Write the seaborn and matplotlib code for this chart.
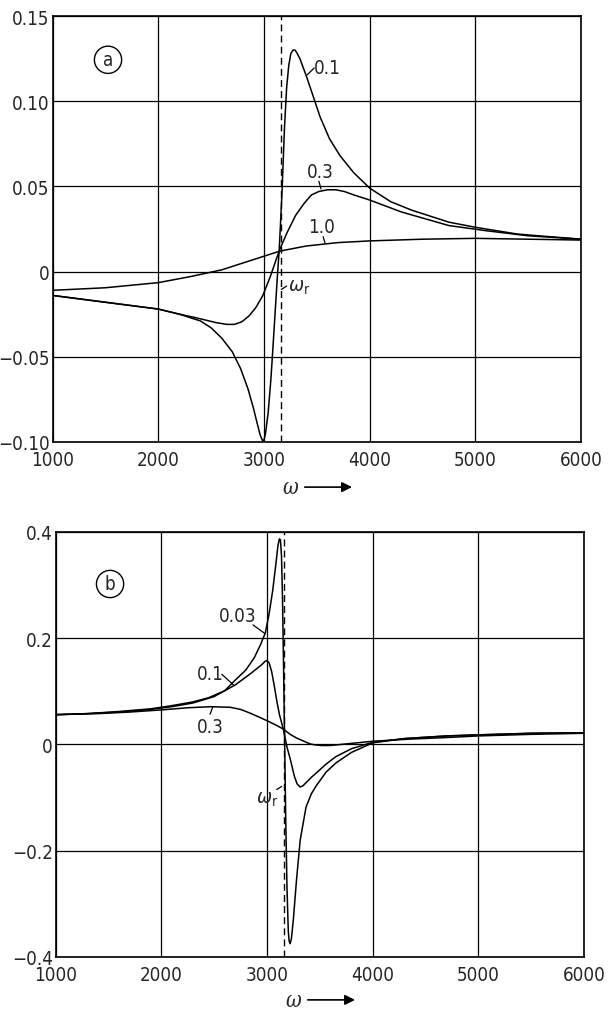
import numpy as np
import pandas as pd
import seaborn as sns
import matplotlib
matplotlib.use("Agg")
import matplotlib.pyplot as plt

# resonance frequency (dashed line)
omega_r = 3162

# ---- panel (a) ----
w_a01 = [1000, 1250, 1500, 1750, 2000, 2200, 2400, 2500, 2600, 2700, 2780, 2850, 2900, 2940,
         2965, 2985, 3000, 3015, 3040, 3065, 3085, 3105, 3125, 3145, 3170, 3195, 3215, 3235,
         3255, 3275, 3295, 3315, 3340, 3370, 3400, 3460, 3530, 3620, 3720, 3850, 4000, 4200,
         4400, 4750, 5000, 5400, 5800, 6000]
v_a01 = [-0.014, -0.016, -0.018, -0.020, -0.022, -0.025, -0.029, -0.033, -0.039, -0.047,
         -0.057, -0.069, -0.080, -0.090, -0.096, -0.099, -0.099, -0.095, -0.083, -0.064,
         -0.045, -0.025, -0.005, 0.013, 0.045, 0.085, 0.108, 0.121, 0.128, 0.130, 0.130, 0.128,
         0.125, 0.120, 0.115, 0.104, 0.091, 0.078, 0.068, 0.058, 0.049, 0.041, 0.036, 0.029,
         0.026, 0.022, 0.020, 0.019]

w_a03 = [1000, 1500, 2000, 2200, 2350, 2450, 2550, 2650, 2720, 2790, 2860, 2925, 2990, 3060,
         3110, 3150, 3220, 3300, 3380, 3450, 3520, 3600, 3680, 3760, 3850, 4000, 4300, 4750,
         5100, 5500, 6000]
v_a03 = [-0.014, -0.018, -0.022, -0.025, -0.027, -0.0285, -0.030, -0.031, -0.031, -0.0295,
         -0.026, -0.021, -0.014, -0.003, 0.006, 0.013, 0.023, 0.033, 0.040, 0.045, 0.047,
         0.048, 0.048, 0.047, 0.045, 0.042, 0.035, 0.027, 0.024, 0.021, 0.019]

w_a10 = [1000, 1500, 2000, 2300, 2600, 2900, 3150, 3400, 3700, 4000, 4500, 5000, 5500, 6000]
v_a10 = [-0.011, -0.0095, -0.0065, -0.003, 0.001, 0.007, 0.012, 0.015, 0.017, 0.018, 0.019,
         0.0195, 0.019, 0.0185]

# ---- panel (b) ----
w_b003 = [1000, 1300, 1600, 1900, 2100, 2300, 2450, 2600, 2700, 2800, 2880, 2940, 2985, 3020,
          3055, 3085, 3105, 3118, 3128, 3138, 3148, 3158, 3168, 3178, 3190, 3202, 3210, 3220,
          3232, 3250, 3280, 3315, 3370, 3420, 3466, 3560, 3652, 3800, 4000, 4300, 4700, 5000,
          5500, 6000]
v_b003 = [0.056, 0.058, 0.062, 0.067, 0.073, 0.080, 0.088, 0.101, 0.121, 0.140, 0.163, 0.188,
          0.210, 0.245, 0.290, 0.340, 0.375, 0.387, 0.385, 0.355, 0.270, 0.140, 0.000,
          -0.140, -0.270, -0.350, -0.370, -0.375, -0.365, -0.330, -0.255, -0.180, -0.118,
          -0.093, -0.078, -0.052, -0.035, -0.015, 0.003, 0.011, 0.016, 0.018, 0.021, 0.022]

w_b01 = [1000, 1300, 1600, 1900, 2100, 2300, 2500, 2700, 2850, 2950, 2980, 3000, 3020, 3045,
         3070, 3095, 3120, 3155, 3190, 3220, 3260, 3285, 3313, 3340, 3380, 3420, 3466, 3560,
         3652, 3800, 4000, 4300, 4700, 5000, 5500, 6000]
v_b01 = [0.056, 0.058, 0.061, 0.066, 0.071, 0.078, 0.090, 0.112, 0.134, 0.150, 0.156, 0.158,
         0.154, 0.137, 0.110, 0.080, 0.055, 0.029, -0.005, -0.027, -0.060, -0.074, -0.080,
         -0.078, -0.070, -0.062, -0.054, -0.037, -0.023, -0.008, 0.004, 0.011, 0.016, 0.018,
         0.021, 0.022]

w_b03 = [1000, 1400, 1705, 2000, 2250, 2462, 2650, 2750, 2840, 2920, 2998, 3080, 3155, 3220,
         3281, 3350, 3407, 3460, 3520, 3600, 3750, 4000, 4350, 4700, 5000, 5500, 6000]
v_b03 = [0.056, 0.058, 0.061, 0.065, 0.069, 0.071, 0.070, 0.066, 0.059, 0.052, 0.045, 0.037,
         0.029, 0.019, 0.012, 0.006, 0.001, -0.001, -0.002, -0.002, 0.001, 0.006, 0.010,
         0.013, 0.016, 0.019, 0.021]

xticks = [1000, 2000, 3000, 4000, 5000, 6000]
yticks_a = [-0.10, -0.05, 0, 0.05, 0.10, 0.15]
ylabels_a = ["\u22120.10", "\u22120.05", "0", "0.05", "0.10", "0.15"]
yticks_b = [-0.4, -0.2, 0, 0.2, 0.4]
ylabels_b = ["\u22120.4", "\u22120.2", "0", "0.2", "0.4"]

sns.set_theme(style="white")
plt.rcParams["font.family"] = ["DejaVu Sans"]
plt.rcParams["font.stretch"] = "condensed"
plt.rcParams["mathtext.fontset"] = "dejavusans"

fig = plt.figure(figsize=(6.1, 10.12), dpi=100)
ax_a = fig.add_axes([0.0861, 0.5623, 0.8664, 0.4209])
ax_b = fig.add_axes([0.0910, 0.0534, 0.8664, 0.4200])

fs = 13.5


def style_axis(ax, yticks, ylabels, ylim):
    ax.set_xlim(1000, 6000)
    ax.set_ylim(*ylim)
    ax.set_xticks(xticks)
    ax.set_xticklabels([str(t) for t in xticks], fontsize=fs)
    ax.set_yticks(yticks)
    ax.set_yticklabels(ylabels, fontsize=fs)
    ax.tick_params(length=0, pad=2)
    ax.tick_params(axis="x", pad=6)
    ax.grid(True, color="black", lw=0.9)
    for s in ax.spines.values():
        s.set_color("black")
        s.set_linewidth(1.2)
    ax.set_xlabel("")
    ax.set_ylabel("")
    ax.axvline(omega_r, color="black", lw=1.0, ls=(0, (5, 3)), zorder=3)


def omega_label(ax, y):
    ax.text(0.45, y, "\u03c9", transform=ax.transAxes, fontsize=fs + 2,
            style="italic", ha="center", va="center", family=["DejaVu Serif"])
    ax.annotate("", xy=(0.572, y), xytext=(0.472, y), xycoords="axes fraction",
                arrowprops=dict(arrowstyle="-|>", color="black", lw=1.2, mutation_scale=15))


def curve(ax, w, v):
    df = pd.DataFrame({"w": w, "v": v})
    sns.lineplot(data=df, x="w", y="v", ax=ax, color="black", lw=1.1, estimator=None)


def tag(ax, text, xy_text, xy_from, xy_to, **kw):
    ax.text(*xy_text, text, fontsize=fs, ha="center", va="center", **kw)
    ax.plot([xy_from[0], xy_to[0]], [xy_from[1], xy_to[1]], color="black", lw=0.9)


# panel (a)
curve(ax_a, w_a01, v_a01)
curve(ax_a, w_a03, v_a03)
curve(ax_a, w_a10, v_a10)
style_axis(ax_a, yticks_a, ylabels_a, (-0.10, 0.15))
tag(ax_a, "0.1", (3600, 0.120), (3410, 0.1155), (3475, 0.1195))
tag(ax_a, "0.3", (3530, 0.0585), (3520, 0.053), (3540, 0.0485))
tag(ax_a, "1.0", (3550, 0.0265), (3560, 0.0205), (3578, 0.0168))
ax_a.text(3225, -0.009, r"$\omega_\mathrm{r}$", fontsize=fs + 1, ha="left", va="center")
ax_a.plot([3165, 3215], [-0.0105, -0.0085], color="black", lw=0.9)
ax_a.text(1525, 0.1243, "a", fontsize=fs, ha="center", va="center",
          bbox=dict(boxstyle="circle,pad=0.22", fc="white", ec="black", lw=1.0))
omega_label(ax_a, -0.106)

# panel (b)
curve(ax_b, w_b003, v_b003)
curve(ax_b, w_b01, v_b01)
curve(ax_b, w_b03, v_b03)
style_axis(ax_b, yticks_b, ylabels_b, (-0.4, 0.4))
tag(ax_b, "0.03", (2720, 0.2425), (2868, 0.225), (2979, 0.209))
tag(ax_b, "0.1", (2463, 0.133), (2573, 0.132), (2684, 0.112))
tag(ax_b, "0.3", (2462, 0.033), (2462, 0.057), (2487, 0.070))
ax_b.text(3000, -0.101, r"$\omega_\mathrm{r}$", fontsize=fs + 1, ha="center", va="center")
ax_b.plot([3092, 3140], [-0.085, -0.079], color="black", lw=0.9)
ax_b.text(1516, 0.302, "b", fontsize=fs, ha="center", va="center",
          bbox=dict(boxstyle="circle,pad=0.22", fc="white", ec="black", lw=1.0))
omega_label(ax_b, -0.101)

fig.savefig("out.png", dpi=100)
